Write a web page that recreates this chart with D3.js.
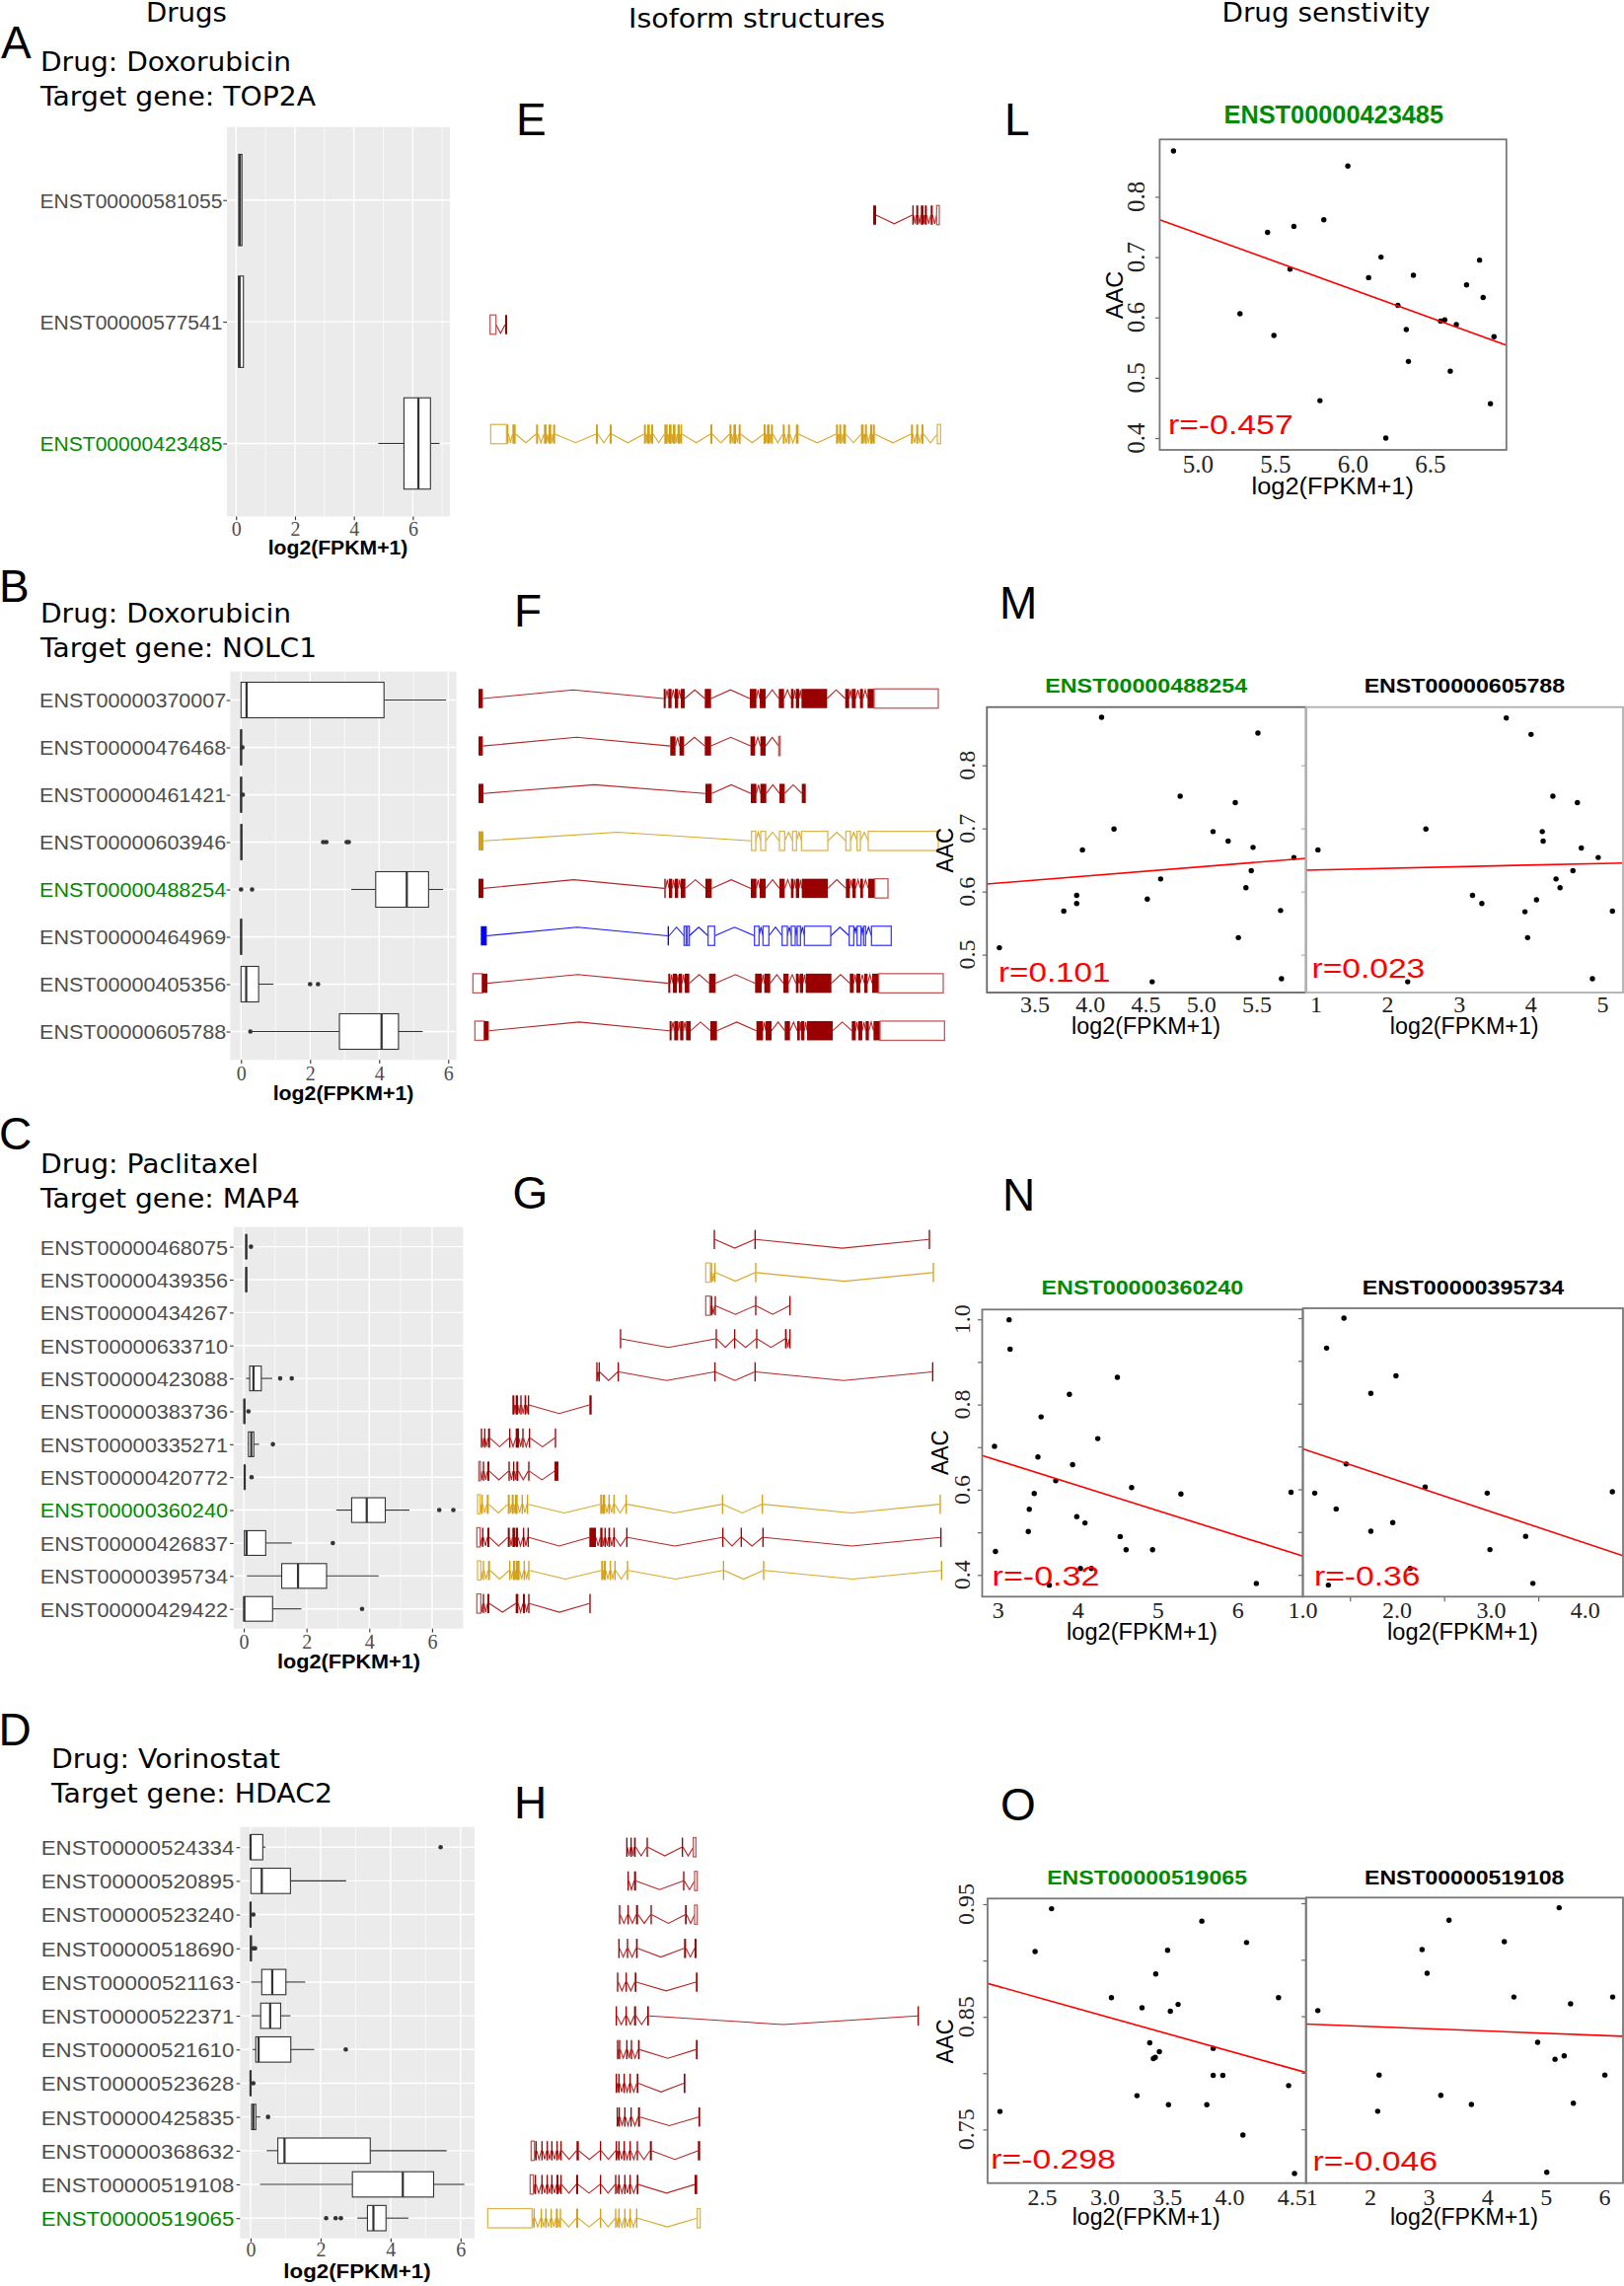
<!DOCTYPE html>
<html><head><meta charset="utf-8">
<script src="https://cdn.jsdelivr.net/npm/d3@7"></script>
<style>body{margin:0;background:#fff}svg{display:block}</style>
</head><body>
<svg id="fig" width="1646" height="2317"></svg>
<script>
// ================= DATA =================
// Boxplot panels: stats = [lowerWhisker, Q1, median, Q3, upperWhisker]
const idsA = ["ENST00000581055","ENST00000577541","ENST00000423485"];
const statsA = [[0.08,0.09,0.13,0.20,0.22],[0.07,0.08,0.12,0.25,0.26],[4.83,5.70,6.19,6.60,6.91]];
const outA = [[],[],[]];
const hiA = "ENST00000423485";

const idsB = ["ENST00000370007","ENST00000476468","ENST00000461421","ENST00000603946","ENST00000488254","ENST00000464969","ENST00000405356","ENST00000605788"];
const statsB = [[0,0,0.16,4.14,5.94],[0,0,0,0.01,0.02],[0,0,0,0.01,0.02],[0,0,0.01,0.02,0.03],[3.19,3.90,4.80,5.43,5.85],[0,0,0,0.01,0.02],[0,0,0.15,0.51,0.94],[0.30,2.85,4.07,4.56,5.26]];
const outB = [[],[0.04],[0.05],[2.38,2.47,3.06,3.12],[0,0.32],[],[2.0,2.23],[0.27]];
const hiB = "ENST00000488254";

const idsC = ["ENST00000468075","ENST00000439356","ENST00000434267","ENST00000633710","ENST00000423088","ENST00000383736","ENST00000335271","ENST00000420772","ENST00000360240","ENST00000426837","ENST00000395734","ENST00000429422"];
const statsC = [[0.06,0.07,0.08,0.09,0.10],[0.06,0.07,0.08,0.09,0.10],null,null,[0.07,0.19,0.31,0.56,0.91],[0,0.01,0.02,0.03,0.04],[0.12,0.15,0.24,0.32,0.49],[0,0.02,0.03,0.04,0.05],[2.95,3.44,3.92,4.51,5.28],[0,0.02,0.09,0.70,1.53],[0.10,1.21,1.73,2.64,4.30],[0,0,0.02,0.92,1.84]];
const outC = [[0.23],[],[],[],[1.16,1.53],[0.15],[0.93],[0.25],[6.23,6.68],[2.84],[],[3.77]];
const hiC = "ENST00000360240";

const idsD = ["ENST00000524334","ENST00000520895","ENST00000523240","ENST00000518690","ENST00000521163","ENST00000522371","ENST00000521610","ENST00000523628","ENST00000425835","ENST00000368632","ENST00000519108","ENST00000519065"];
const statsD = [[0,0,0,0.35,0.43],[0,0.01,0.32,1.14,2.73],[0,0,0,0.01,0.02],[0,0,0.01,0.02,0.03],[0.02,0.32,0.62,1.01,1.56],[0.03,0.29,0.56,0.86,1.14],[0.06,0.15,0.23,1.15,1.82],[0,0,0,0.01,0.02],[0.03,0.03,0.08,0.15,0.28],[0.46,0.78,0.97,3.42,5.60],[0.27,2.91,4.35,5.23,6.11],[3.05,3.34,3.51,3.87,4.51]];
const outD = [[5.43],[],[0.08],[0.08,0.13],[],[],[2.72],[0.08],[0.5],[],[],[2.16,2.43,2.58]];
const hiD = "ENST00000519065";

// Isoform structures: exons [start, end, type] in relative genomic units ('u' = UTR / non-coding)
const isoE = [
 [[1215,1224],[1334,1338],[1346,1352],[1360,1368],[1372,1378],[1390,1396],[1408,1416,'u']],
 [[50,68,'u'],[96,102]],
 [[52,100,'u'],[102,106],[118,128],[190,196],[214,222],[228,236],[242,248],[372,378],[414,420],[518,524],[528,536],[540,546],[580,590],[594,602],[606,614],[620,628],[630,634],[720,726],[778,784],[790,798],[806,812],[882,888],[892,900],[904,910],[940,946],[956,962],[980,988],[1102,1108],[1112,1118],[1124,1132],[1178,1186],[1190,1196],[1206,1212],[1214,1220],[1330,1336],[1346,1352],[1362,1368],[1410,1420,'u']]
];
const colE = ["red","red","gold"];

const isoF = [
 [[45,58],[608,614],[622,632],[642,652],[660,672],[733,752],[870,890],[900,918],[958,974],[995,1003],[1010,1020],[1027,1105],[1160,1172],[1180,1192],[1205,1214],[1228,1248],[1248,1443,'u']],
 [[45,58],[628,644],[656,670],[733,752],[872,886],[902,918],[958,962,'u']],
 [[45,60],[735,754],[873,890],[902,920],[960,976],[1028,1040]],
 [[45,60],[875,888,'u'],[903,918,'u'],[960,976,'u'],[1000,1012,'u'],[1027,1107,'u'],[1162,1176,'u'],[1196,1206,'u'],[1230,1443,'u']],
 [[45,60],[610,614],[624,634],[642,652],[660,674],[735,754],[873,890],[900,918],[960,976],[995,1003],[1010,1020],[1028,1107],[1162,1174],[1182,1192],[1206,1214],[1230,1250],[1250,1290,'u']],
 [[52,70],[620,624],[670,676,'u'],[680,686,'u'],[743,763,'u'],[884,898,'u'],[910,928,'u'],[968,984,'u'],[996,1008,'u'],[1014,1024,'u'],[1036,1116,'u'],[1172,1186,'u'],[1196,1208,'u'],[1216,1222,'u'],[1240,1300,'u']],
 [[28,56,'u'],[56,72],[622,628],[636,648],[654,664],[672,686],[746,766],[886,906],[914,932],[972,988],[1010,1018],[1022,1032],[1040,1118],[1174,1186],[1194,1206],[1218,1228],[1242,1262],[1262,1458,'u']],
 [[34,62,'u'],[62,76],[626,632],[640,652],[658,668],[676,690],[750,770],[890,910],[918,936],[976,992],[1014,1022],[1026,1036],[1044,1122],[1180,1192],[1200,1212],[1222,1232],[1246,1266],[1266,1462,'u']]
];
const colF = ["red","red","red","gold","red","blue","red","red"];

const isoG = [
 [[760,764],[884,888],[1414,1418]],
 [[736,750,'u'],[752,755],[762,766],[886,889],[1426,1430]],
 [[736,750,'u'],[752,755],[763,766],[886,889],[990,993]],
 [[475,478],[766,769],[822,825],[889,892],[977,982],[990,994]],
 [[403,406],[410,413],[468,472],[762,765],[884,887],[1424,1428]],
 [[148,154],[158,165],[172,176],[185,190],[195,198],[382,389]],
 [[52,56],[62,65],[74,80],[138,142],[158,168],[178,182],[198,202],[277,281]],
 [[46,51,'u'],[58,62],[72,78],[136,140],[150,154],[160,166],[196,200],[276,288]],
 [[42,50,'u'],[54,58],[70,76],[134,140],[146,152],[156,164],[176,180],[192,196],[415,420],[422,430],[440,444],[455,459],[492,496],[785,788],[906,910],[1447,1451]],
 [[40,50,'u'],[56,60],[72,78],[134,140],[148,156],[158,165],[180,184],[194,198],[382,402],[415,422],[428,432],[440,445],[455,459],[494,498],[786,790],[842,845],[908,912],[1449,1453]],
 [[42,52,'u'],[58,62],[74,80],[138,142],[150,156],[158,170],[182,186],[196,200],[418,424],[426,432],[444,448],[458,462],[496,500],[788,792],[910,914],[1451,1455]],
 [[40,52,'u'],[58,62],[72,78],[158,166],[180,186],[196,200],[382,386]]
];
const colG = ["red","gold","red","red","red","red","red","red","gold","red","gold","red"];

const isoH = [
 [[464,468],[477,481],[488,493],[526,530],[633,637],[668,676,'u']],
 [[468,472],[488,494],[637,641],[672,680,'u']],
 [[442,446],[468,472],[494,500],[538,542],[643,648],[672,680,'u']],
 [[440,444],[466,470],[494,499],[640,646],[672,678]],
 [[436,440],[462,466],[490,495],[676,681]],
 [[432,436],[462,466],[488,494],[528,533],[1350,1354]],
 [[436,440],[442,446],[464,468],[478,482],[500,505],[676,681]],
 [[432,436],[440,444],[456,460],[474,478],[496,501],[639,644]],
 [[435,439],[441,445],[458,462],[477,481],[500,506],[684,689]],
 [[175,185,'u'],[188,192],[206,210],[222,226],[236,240],[252,256],[264,268],[313,320],[384,388],[432,436],[440,444],[456,460],[474,478],[496,500],[536,542],[682,689]],
 [[172,182,'u'],[186,190],[206,210],[222,226],[236,240],[252,258],[264,268],[312,318],[384,388],[430,434],[440,444],[458,462],[474,478],[496,501],[672,680]],
 [[43,178,'u'],[182,186],[204,208],[218,222],[234,238],[250,256],[262,266],[312,318],[384,388],[430,434],[440,444],[458,462],[474,478],[494,498],[680,689,'u']]
];
const colH = ["red","red","red","red","red","red","red","red","red","red","red","gold"];

// Scatter panels: [log2(FPKM+1), AAC]
const ptsL = [[4.841,0.876],[5.966,0.851],[5.448,0.741],[5.618,0.751],[5.811,0.762],[5.593,0.680],[5.270,0.606],[5.489,0.570],[5.786,0.462],[6.180,0.700],[6.100,0.666],[6.389,0.670],[6.289,0.620],[6.343,0.580],[6.357,0.527],[6.211,0.400],[6.564,0.594],[6.591,0.596],[6.666,0.588],[6.627,0.511],[6.732,0.654],[6.816,0.695],[6.839,0.633],[6.909,0.568],[6.886,0.457]];
const ptsM1 = [[3.18,0.511],[3.76,0.569],[3.876,0.594],[3.876,0.581],[3.928,0.666],[4.10,0.876],[4.212,0.699],[4.512,0.588],[4.556,0.457],[4.632,0.620],[4.808,0.751],[5.104,0.695],[5.24,0.680],[5.304,0.741],[5.332,0.527],[5.40,0.606],[5.448,0.633],[5.464,0.670],[5.508,0.851],[5.712,0.570],[5.72,0.462],[5.832,0.654]];
const ptsM2 = [[1.025,0.666],[2.278,0.457],[2.532,0.699],[3.183,0.594],[3.313,0.581],[3.654,0.875],[3.915,0.568],[3.952,0.527],[4.0,0.849],[4.076,0.587],[4.157,0.695],[4.169,0.680],[4.305,0.751],[4.349,0.620],[4.405,0.606],[4.585,0.633],[4.647,0.741],[4.702,0.669],[4.857,0.462],[4.938,0.654],[5.136,0.569]];
const ptsN1 = [[3.137,0.999],[3.149,0.930],[2.954,0.702],[2.966,0.455],[3.497,0.677],[3.537,0.771],[3.451,0.591],[3.389,0.554],[3.377,0.502],[3.64,0.376],[3.72,0.621],[3.891,0.824],[3.931,0.659],[3.983,0.537],[4.029,0.415],[4.086,0.522],[4.166,0.415],[4.246,0.720],[4.491,0.864],[4.526,0.490],[4.6,0.459],[4.669,0.605],[4.931,0.459],[5.286,0.590],[6.229,0.380],[6.663,0.594]];
const ptsN2 = [[1.126,0.591],[1.252,0.930],[1.271,0.376],[1.354,0.554],[1.436,1.0],[1.46,0.659],[1.722,0.824],[1.722,0.502],[1.955,0.522],[1.989,0.865],[2.139,0.415],[2.299,0.605],[2.958,0.591],[2.987,0.459],[3.366,0.490],[3.443,0.380],[4.287,0.594]];
const ptsO1 = [[2.16,0.766],[2.441,0.908],[2.573,0.946],[3.052,0.867],[3.297,0.858],[3.257,0.780],[3.359,0.827],[3.388,0.813],[3.403,0.814],[3.436,0.819],[3.407,0.888],[3.502,0.909],[3.524,0.855],[3.586,0.861],[3.509,0.772],[3.776,0.935],[3.816,0.772],[3.867,0.822],[3.867,0.798],[3.944,0.798],[4.105,0.745],[4.134,0.916],[4.39,0.867],[4.471,0.789],[4.518,0.711]];
const ptsO2 = [[1.101,0.855],[2.123,0.766],[2.147,0.798],[2.88,0.909],[2.966,0.888],[3.2,0.780],[3.34,0.935],[3.722,0.772],[4.284,0.916],[4.448,0.867],[4.853,0.827],[5.009,0.712],[5.15,0.812],[5.306,0.815],[5.22,0.946],[5.415,0.861],[5.462,0.773],[6.0,0.798],[6.133,0.867]];
// regression fits [intercept, slope]
const fitL = [1.204,-0.093], fitM1 = [0.5686,0.01414], fitM2 = [0.6317,0.002566];
const fitN1 = [0.8452,-0.0589], fitN2 = [0.7676,-0.0734];
const fitO1 = [0.9436,-0.03103], fitO2 = [0.8449,-0.00199];
const rL = "r=-0.457", rM1 = "r=0.101", rM2 = "r=0.023", rN1 = "r=-0.32", rN2 = "r=-0.36", rO1 = "r=-0.298", rO2 = "r=-0.046";

// ================= DRAWING =================
const SANS = "'Liberation Sans', Arial, Helvetica, sans-serif";
const SERIF = "'Liberation Serif', 'Times New Roman', serif";
const DJ = "'DejaVu Sans', Verdana, sans-serif";
const GREEN = "#008a00";
const svg = d3.select("#fig");
const defs = svg.append("defs");
let clipN = 0;

function T(p, s, x, y, o = {}) {
  const t = p.append("text").attr("x", x).attr("y", y).text(s)
    .attr("font-family", o.ff || SANS).attr("font-size", o.fs || 16).attr("fill", o.fill || "#000");
  if (o.anchor) t.attr("text-anchor", o.anchor);
  if (o.weight) t.attr("font-weight", o.weight);
  if (o.len) t.attr("textLength", o.len).attr("lengthAdjust", "spacingAndGlyphs");
  if (o.db) t.attr("dominant-baseline", o.db);
  if (o.rot) t.attr("transform", `rotate(${o.rot},${x},${y})`);
  return t;
}

// headers
T(svg, "Drugs", 189, 22, {ff: DJ, fs: 27, anchor: "middle", len: 82});
T(svg, "Isoform structures", 767, 27.5, {ff: DJ, fs: 26, anchor: "middle", len: 260});
T(svg, "Drug senstivity", 1344, 22, {ff: DJ, fs: 26, anchor: "middle", len: 211});

// panel letters
[["A",1,59],["B",-1,610],["C",-1,1165],["D",-1.5,1769],["E",523,136.7],["F",521,635],["G",519.5,1225],["H",521,1843],
 ["L",1018,136.7],["M",1013,627],["N",1016,1226.7],["O",1014,1845]]
 .forEach(([s,x,y]) => T(svg, s, x, y, {fs: 46}));

// drug / gene titles
[["Drug: Doxorubicin",41,72.1,254],["Target gene: TOP2A",41,107.3,279],
 ["Drug: Doxorubicin",41,631.4,254],["Target gene: NOLC1",41,666.4,280],
 ["Drug: Paclitaxel",41,1189.3,221],["Target gene: MAP4",41,1223.9,263],
 ["Drug: Vorinostat",52,1792,232],["Target gene: HDAC2",52,1826.8,285]]
 .forEach(([s,x,y,l]) => T(svg, s, x, y, {ff: DJ, fs: 26, len: l}));

function boxplot(o) {
  const g = svg.append("g");
  const x = d3.scaleLinear().domain(o.xd).range([o.x0, o.x1]);
  const y = d3.scalePoint().domain(o.ids).range([o.y0, o.y1]).padding(0.6);
  g.append("rect").attr("x", o.x0).attr("y", o.y0).attr("width", o.x1 - o.x0).attr("height", o.y1 - o.y0).attr("fill", "#ebebeb");
  const all = d3.range(Math.ceil(o.xd[0]), Math.floor(o.xd[1]) + 1);
  const minor = all.filter(v => v % 2 !== 0), major = all.filter(v => v % 2 === 0);
  g.selectAll(null).data(minor).join("line").attr("x1", d => x(d)).attr("x2", d => x(d)).attr("y1", o.y0).attr("y2", o.y1).attr("stroke", "#fff").attr("stroke-width", 0.7);
  g.selectAll(null).data(major).join("line").attr("x1", d => x(d)).attr("x2", d => x(d)).attr("y1", o.y0).attr("y2", o.y1).attr("stroke", "#fff").attr("stroke-width", 1.4);
  g.selectAll(null).data(o.ids).join("line").attr("x1", o.x0).attr("x2", o.x1).attr("y1", d => y(d)).attr("y2", d => y(d)).attr("stroke", "#fff").attr("stroke-width", 1.4);
  const bh = y.step() * 0.75;
  o.ids.forEach((id, i) => {
    const s = o.stats[i]; const cy = y(id);
    if (s) {
      g.append("line").attr("x1", x(s[0])).attr("x2", x(s[1])).attr("y1", cy).attr("y2", cy).attr("stroke", "#333").attr("stroke-width", 1.1);
      g.append("line").attr("x1", x(s[3])).attr("x2", x(s[4])).attr("y1", cy).attr("y2", cy).attr("stroke", "#333").attr("stroke-width", 1.1);
      g.append("rect").attr("x", x(s[1])).attr("y", cy - bh / 2).attr("width", Math.max(x(s[3]) - x(s[1]), 0.5)).attr("height", bh)
        .attr("fill", "#fff").attr("stroke", "#333").attr("stroke-width", 1.1);
      g.append("line").attr("x1", x(s[2])).attr("x2", x(s[2])).attr("y1", cy - bh / 2).attr("y2", cy + bh / 2).attr("stroke", "#333").attr("stroke-width", 2.2);
    }
    g.selectAll(null).data(o.outs[i]).join("circle").attr("cx", d => x(d)).attr("cy", cy).attr("r", 2.3).attr("fill", "#333");
  });
  const axb = g.append("g").attr("transform", `translate(0,${o.y1})`)
    .call(d3.axisBottom(x).tickValues(major).tickSize(3.7).tickFormat(d3.format("d")));
  axb.select(".domain").remove();
  axb.selectAll("line").attr("stroke", "#333").attr("stroke-width", 1.1);
  axb.selectAll("text").attr("y", o.xtY - o.y1).attr("dy", null).attr("dominant-baseline", "central")
    .attr("font-family", SERIF).attr("font-size", 20).attr("fill", "#4d4d4d");
  const axl = g.append("g").attr("transform", `translate(${o.x0},0)`).call(d3.axisLeft(y).tickSize(3.7));
  axl.select(".domain").remove();
  axl.selectAll("line").attr("stroke", "#333").attr("stroke-width", 1.1);
  axl.selectAll("text").attr("x", o.labEnd - o.x0).attr("dy", "0.36em")
    .attr("font-family", SANS).attr("font-size", 20.5)
    .attr("fill", d => d === o.hi ? GREEN : "#4d4d4d")
    .attr("textLength", o.labLen).attr("lengthAdjust", "spacingAndGlyphs");
  T(g, "log2(FPKM+1)", o.tX, o.tY, {anchor: "middle", weight: "bold", fs: 20.5, len: o.tLen});
}

boxplot({ids: idsA, stats: statsA, outs: outA, hi: hiA, x0: 230, x1: 456, y0: 128.7, y1: 523.5, xd: [-0.31, 7.26], labEnd: 225.5, labLen: 185, xtY: 536.4, tX: 342.5, tY: 562.3, tLen: 141.7});
boxplot({ids: idsB, stats: statsB, outs: outB, hi: hiB, x0: 233.3, x1: 462.7, y0: 680.7, y1: 1074.3, xd: [-0.314, 6.24], labEnd: 229.3, labLen: 189.3, xtY: 1087.9, tX: 348, tY: 1114.6, tLen: 142.7});
boxplot({ids: idsC, stats: statsC, outs: outC, hi: hiC, x0: 236.7, x1: 470, y0: 1243.6, y1: 1650.7, xd: [-0.325, 7.01], labEnd: 231, labLen: 190.3, xtY: 1664, tX: 353.5, tY: 1691, tLen: 145});
boxplot({ids: idsD, stats: statsD, outs: outD, hi: hiD, x0: 243.3, x1: 481, y0: 1851.7, y1: 2268.7, xd: [-0.30, 6.4], labEnd: 237.3, labLen: 195.6, xtY: 2280.4, tX: 362, tY: 2309, tLen: 149.3});

// isoform structure panels
const PAL = {
  red:  {cds: "#990000", utr: "#c25a5a", intr: "#b52525"},
  gold: {cds: "#d4a017", utr: "#deb650", intr: "#d8a82c"},
  blue: {cds: "#0000ff", utr: "#4040ff", intr: "#1515ff"}
};
function isoPanel(o) {
  const g = svg.append("g");
  const gx = d3.scaleLinear().domain([0, 1500]).range([o.off, o.off + 500]);
  const gy = d3.scalePoint().domain(o.ids).range([o.yFirst, o.yLast]);
  const h = 19.5;
  o.ids.forEach((id, i) => {
    const ex = o.rows[i], pal = PAL[o.colors[i]], cy = gy(id);
    for (let k = 0; k < ex.length - 1; k++) {
      const a = ex[k][1], b = ex[k + 1][0];
      if (b - a <= 0) continue;
      g.append("polyline").attr("points", [[gx(a), cy], [gx((a + b) / 2), cy + o.dir * h * 0.45], [gx(b), cy]].map(p => p.join(",")).join(" "))
        .attr("fill", "none").attr("stroke", pal.intr).attr("stroke-width", 1.1);
    }
    ex.forEach(e => {
      const w = Math.max(gx(e[1]) - gx(e[0]), 1.3);
      const r = g.append("rect").attr("x", gx(e[0])).attr("y", cy - h / 2).attr("width", w).attr("height", h);
      if (e[2] === 'u') r.attr("fill", "#fff").attr("stroke", pal.utr).attr("stroke-width", 1.3);
      else r.attr("fill", pal.cds);
    });
  });
}
isoPanel({ids: idsA, rows: isoE, colors: colE, off: 480, dir: 1, yFirst: 218, yLast: 440});
isoPanel({ids: idsB, rows: isoF, colors: colF, off: 470, dir: -1, yFirst: 708, yLast: 1044.7});
isoPanel({ids: idsC, rows: isoG, colors: colG, off: 470, dir: 1, yFirst: 1256.3, yLast: 1625.3});
isoPanel({ids: idsD, rows: isoH, colors: colH, off: 480, dir: 1, yFirst: 1872.3, yLast: 2248.3});

// scatter panels
function scatter(o) {
  const g = svg.append("g");
  const x = d3.scaleLinear().domain(o.xd).range([o.bx0, o.bx1]);
  const y = d3.scaleLinear().domain(o.yd).range([o.by1, o.by0]);
  const cid = "clip" + (clipN++);
  defs.append("clipPath").attr("id", cid).append("rect").attr("x", o.bx0).attr("y", o.by0).attr("width", o.bx1 - o.bx0).attr("height", o.by1 - o.by0);
  const inner = g.append("g").attr("clip-path", `url(#${cid})`);
  inner.selectAll("circle").data(o.pts).join("circle").attr("cx", d => x(d[0])).attr("cy", d => y(d[1])).attr("r", 2.7).attr("fill", "#000");
  const [a, b] = o.fit;
  inner.append("line").attr("x1", x(o.xd[0])).attr("y1", y(a + b * o.xd[0])).attr("x2", x(o.xd[1])).attr("y2", y(a + b * o.xd[1]))
    .attr("stroke", "#ff0000").attr("stroke-width", 1.6);
  const ay = g.append("g").attr("transform", `translate(${o.bx0},0)`).call(d3.axisLeft(y).tickValues(o.ym).tickSize(o.tl || 4.5).tickFormat(""));
  ay.select(".domain").remove(); ay.selectAll("line").attr("stroke", o.tickCol || "#666").attr("stroke-width", 1.2);
  if (o.xm) {
    const ax = g.append("g").attr("transform", `translate(0,${o.by1})`).call(d3.axisBottom(x).tickValues(o.xm).tickSize(5).tickFormat(""));
    ax.select(".domain").remove(); ax.selectAll("line").attr("stroke", "#666").attr("stroke-width", 1.2);
  }
  g.append("rect").attr("x", o.bx0).attr("y", o.by0).attr("width", o.bx1 - o.bx0).attr("height", o.by1 - o.by0)
    .attr("fill", "none").attr("stroke", o.stroke || "#777").attr("stroke-width", 1.8);
  const fs = o.tfs || 24;
  if (o.yl) o.yl.forEach(v => T(g, d3.format(o.yfmt)(v), o.ytX, y(v), {ff: SERIF, fs: fs, anchor: "middle", db: "central", rot: -90, fill: "#222"}));
  o.xt.forEach(v => T(g, d3.format(o.xfmt)(v), x(v), o.xtY, {ff: SERIF, fs: fs, anchor: "middle", db: "central", fill: "#222"}));
  T(g, o.r[0], o.r[1], o.r[2], {fs: 28, fill: "#ff0000", len: o.r[3]});
  T(g, o.title[0], o.title[1], o.title[2], {anchor: "middle", weight: "bold", fs: o.title[4], len: o.title[3], fill: o.title[5]});
  T(g, "log2(FPKM+1)", o.xtitle[0], o.xtitle[1], {anchor: "middle", fs: 23, len: o.xtitle[2]});
  if (o.aac) T(g, "AAC", o.aac[0], o.aac[1], {anchor: "middle", fs: 24, rot: -90, len: o.aac[2]});
}

scatter({bx0: 1175.4, bx1: 1526.8, by0: 141.3, by1: 456, xd: [4.752, 6.989], yd: [0.3804, 0.8951], pts: ptsL, fit: fitL,
  xt: [5, 5.5, 6, 6.5], xfmt: ".1f", yl: [0.4, 0.5, 0.6, 0.7, 0.8], yfmt: ".1f", ym: [0.4, 0.5, 0.6, 0.7, 0.8], xtY: 470, ytX: 1151.8, tfs: 25,
  r: [rL, 1183.9, 440, 126.8], title: ["ENST00000423485", 1351.8, 125, 222.5, 25, GREEN], xtitle: [1350.7, 500.7, 164.3], aac: [1137.5, 299, 48.3]});

scatter({bx0: 1000.3, bx1: 1323.6, by0: 716.7, by1: 1006, xd: [3.068, 5.94], yd: [0.440, 0.8922], pts: ptsM1, fit: fitM1,
  xt: [3.5, 4, 4.5, 5, 5.5], xfmt: ".1f", yl: [0.5, 0.6, 0.7, 0.8], yfmt: ".1f", ym: [0.5, 0.6, 0.7, 0.8], xtY: 1018.3, ytX: 979.6, stroke: "#666",
  r: [rM1, 1012, 995, 113.5], title: ["ENST00000488254", 1161.7, 701.7, 205, 21, GREEN], xtitle: [1161.5, 1048.3, 150.8], aac: [966, 861.7, 45.7]});
scatter({bx0: 1323.6, bx1: 1645, by0: 716.7, by1: 1006, xd: [0.857, 5.284], yd: [0.440, 0.8922], pts: ptsM2, fit: fitM2,
  xt: [1, 2, 3, 4, 5], xfmt: "d", ym: [0.5, 0.6, 0.7, 0.8], xtY: 1018.3, stroke: "#b0b0b0", tickCol: "#aaa",
  r: [rM2, 1329.5, 990.7, 114.8], title: ["ENST00000605788", 1484.4, 701.7, 203.5, 21, "#000"], xtitle: [1484.2, 1048.3, 150.8]});

scatter({bx0: 995.5, bx1: 1320.5, by0: 1327.3, by1: 1618.3, xd: [2.8, 6.811], yd: [0.349, 1.023], pts: ptsN1, fit: fitN1,
  xt: [3, 4, 5, 6], xfmt: "d", yl: [0.4, 0.6, 0.8, 1.0], yfmt: ".1f", ym: [0.4, 0.5, 0.6, 0.7, 0.8, 0.9, 1.0], xtY: 1631.7, ytX: 974.6,
  r: [rN1, 1005.6, 1606.7, 108.8], title: ["ENST00000360240", 1157.9, 1311.7, 204.7, 21, GREEN], xtitle: [1157.5, 1661.7, 152.8], aac: [960.7, 1472.2, 45.7]});
scatter({bx0: 1320.5, bx1: 1645, by0: 1326, by1: 1618.3, xd: [1.0, 4.40], yd: [0.349, 1.023], pts: ptsN2, fit: fitN2,
  xt: [1, 2, 3, 4], xfmt: ".1f", ym: [0.4, 0.5, 0.6, 0.7, 0.8, 0.9, 1.0], xm: [1.5, 2.5, 3.5], xtY: 1631.7,
  r: [rN2, 1332, 1606.7, 107.4], title: ["ENST00000395734", 1483, 1311.7, 204.7, 21, "#000"], xtitle: [1482.5, 1661.7, 152.8]});

scatter({bx0: 1001, bx1: 1323.7, by0: 1924.3, by1: 2212.7, xd: [2.061, 4.61], yd: [0.7024, 0.955], pts: ptsO1, fit: fitO1,
  xt: [2.5, 3, 3.5, 4, 4.5], xfmt: ".1f", yl: [0.75, 0.85, 0.95], yfmt: ".2f", ym: [0.75, 0.8, 0.85, 0.9, 0.95], xtY: 2226.7, ytX: 979.3,
  r: [rO1, 1004.3, 2198.3, 126.4], title: ["ENST00000519065", 1162.6, 1910, 202.8, 21, GREEN], xtitle: [1161.7, 2255, 150], aac: [966.3, 2069, 45]});
scatter({bx0: 1323.7, bx1: 1645, by0: 1923.3, by1: 2212.7, xd: [0.899, 6.31], yd: [0.7024, 0.955], pts: ptsO2, fit: fitO2,
  xt: [1, 2, 3, 4, 5, 6], xfmt: "d", ym: [0.75, 0.8, 0.85, 0.9, 0.95], xtY: 2226.7,
  r: [rO2, 1330.6, 2200, 126.4], title: ["ENST00000519108", 1484.2, 1910, 202.3, 21, "#000"], xtitle: [1483.9, 2255, 150]});
</script>
</body></html>
